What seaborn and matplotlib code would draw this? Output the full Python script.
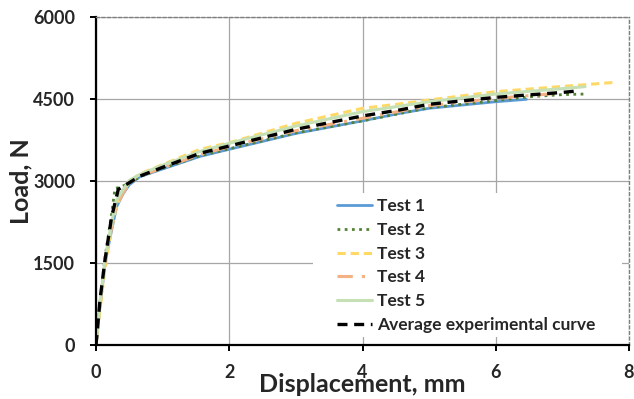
import numpy as np
import pandas as pd
import matplotlib
matplotlib.use("Agg")
import matplotlib.pyplot as plt
from matplotlib.patches import Rectangle
import seaborn as sns

# ---- data ----
t1_x = [0, 0.06, 0.135, 0.235, 0.31, 0.41, 0.5, 0.66, 1.0, 1.56, 2.0, 3.0, 4.0, 4.56, 5.0, 6.0, 6.46]
t1_y = [0, 700, 1494, 2104, 2530, 2775, 2930, 3080, 3220, 3450, 3580, 3870, 4100, 4238, 4330, 4450, 4494]

t2_x = [0, 0.06, 0.135, 0.235, 0.285, 0.35, 0.5, 0.66, 1.0, 1.56, 2.0, 3.0, 4.0, 5.0, 6.0, 6.5, 7.0, 7.34]
t2_y = [0, 800, 1600, 2400, 2866, 2880, 2960, 3080, 3230, 3460, 3590, 3880, 4100, 4340, 4470, 4540, 4580, 4591]

t3_x = [0, 0.06, 0.135, 0.235, 0.31, 0.41, 0.5, 0.66, 1.0, 1.56, 2.0, 3.0, 4.0, 4.56, 5.0, 6.0, 7.0, 7.79]
t3_y = [0, 650, 1400, 2150, 2550, 2800, 2990, 3130, 3300, 3580, 3700, 4055, 4330, 4410, 4482, 4634, 4730, 4805]

t4_x = [0, 0.06, 0.135, 0.235, 0.31, 0.41, 0.5, 0.66, 1.0, 1.56, 2.0, 3.0, 4.0, 5.0, 6.0, 6.91]
t4_y = [0, 720, 1500, 2150, 2560, 2790, 2950, 3090, 3240, 3480, 3630, 3920, 4147, 4378, 4512, 4603]

t5_x = [0, 0.06, 0.135, 0.235, 0.31, 0.41, 0.5, 0.66, 1.0, 1.56, 2.0, 3.0, 4.0, 5.0, 6.0, 7.0, 7.34]
t5_y = [0, 760, 1550, 2250, 2650, 2850, 3010, 3120, 3290, 3540, 3690, 4006, 4268, 4450, 4591, 4690, 4726]

avg_x = [0, 0.06, 0.135, 0.235, 0.335, 0.485, 0.66, 1.0, 1.56, 2.0, 3.0, 4.0, 4.56, 5.0, 6.0, 7.0, 7.21]
avg_y = [0, 823, 1555, 2347, 2848, 2958, 3090, 3250, 3507, 3640, 3945, 4190, 4300, 4403, 4530, 4620, 4646]

labels = ["Test 1", "Test 2", "Test 3", "Test 4", "Test 5", "Average experimental curve"]
x_ticks = [0, 2, 4, 6, 8]
y_ticks = [0, 1500, 3000, 4500, 6000]

sns.set_theme(style="white")
plt.rcParams["font.family"] = ["Lato", "DejaVu Sans"]
plt.rcParams["font.weight"] = "bold"

W, H = 634, 399
fig = plt.figure(figsize=(W / 100, H / 100), dpi=100)
L, R, T, B = 96, 629, 17, 345
ax = fig.add_axes([L / W, 1 - B / H, (R - L) / W, (B - T) / H])

series = [
    (t1_x, t1_y, dict(color="#5B9BD5", lw=2.0, ls="-")),
    (t2_x, t2_y, dict(color="#548235", lw=2.0, ls=(0, (1, 1.6)))),
    (t3_x, t3_y, dict(color="#FFD966", lw=2.2, ls=(0, (2.7, 1.6)))),
    (t4_x, t4_y, dict(color="#F4B183", lw=2.2, ls=(0, (5, 3, 1, 3)))),
    (t5_x, t5_y, dict(color="#C5E0B4", lw=2.2, ls="-")),
    (avg_x, avg_y, dict(color="black", lw=2.4, ls=(0, (3, 2)))),
]
for (xs, ys, st), lab in zip(series, labels):
    df = pd.DataFrame({"x": xs, "y": ys})
    sns.lineplot(data=df, x="x", y="y", ax=ax, sort=False, label=lab,
                 color=st["color"], linewidth=st["lw"], linestyle=st["ls"])

ax.set_xlim(0, 8)
ax.set_ylim(0, 6000)
ax.set_xticks(x_ticks)
ax.set_yticks(y_ticks)
ax.set_xticklabels([str(v) for v in x_ticks], fontsize=13, fontweight="bold")
ax.set_yticklabels([str(v) for v in y_ticks], fontsize=13, fontweight="bold")
ax.grid(True, color="#A6A6A6", lw=0.9)
ax.set_axisbelow(True)

for s in ["left", "bottom"]:
    ax.spines[s].set_color("black")
    ax.spines[s].set_linewidth(1.6)
for s in ["top", "right"]:
    ax.spines[s].set_color("#7F7F7F")
    ax.spines[s].set_linewidth(1.0)
    ax.spines[s].set_linestyle((0, (2, 2)))

ax.tick_params(axis="both", which="both", direction="out", length=4, width=1.4,
               color="black", left=True, bottom=True)
ax.tick_params(axis="x", pad=10)
ax.tick_params(axis="y", pad=11)

ax.set_xlabel("Displacement, mm", fontsize=18, fontweight="bold")
ax.set_ylabel("Load, N", fontsize=18, fontweight="bold")
ax.xaxis.set_label_coords(0.5, (B - 373) / (B - T))
ax.yaxis.set_label_coords((32 - L) / (R - L), 0.5)

# white legend background (no border), as in the reference
lx0, lx1, ly0, ly1 = 313, 622, 193, 337
ax.add_patch(Rectangle(((lx0 - L) / (R - L), (B - ly1) / (B - T)),
                       (lx1 - lx0) / (R - L), (ly1 - ly0) / (B - T),
                       transform=ax.transAxes, facecolor="white",
                       edgecolor="none", zorder=1.5))

leg = ax.legend(loc="upper left",
                bbox_to_anchor=((337 - L) / (R - L), (B - 198) / (B - T)),
                frameon=False, prop={"weight": "bold", "size": 12.5},
                handlelength=2.0, labelspacing=0.45, borderpad=0.0,
                borderaxespad=0.0, handletextpad=0.3)

fig.savefig("out.png", dpi=100, facecolor="white")
